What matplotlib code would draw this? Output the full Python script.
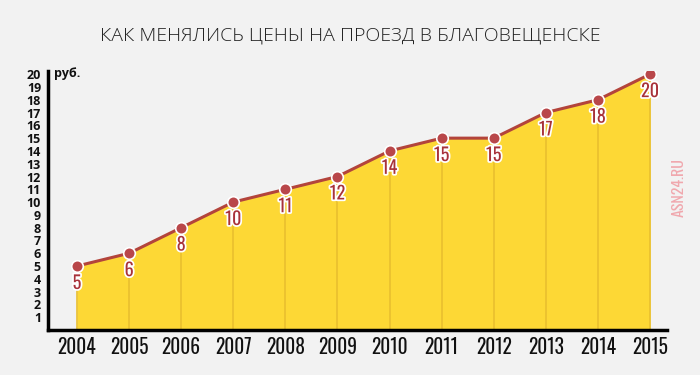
import matplotlib
matplotlib.use("Agg")
import matplotlib.pyplot as plt
import matplotlib.patheffects as pe

years = [2004, 2005, 2006, 2007, 2008, 2009, 2010, 2011, 2012, 2013, 2014, 2015]
prices = [5, 6, 8, 10, 11, 12, 14, 15, 15, 17, 18, 20]
yticks = list(range(1, 21))

title = "КАК МЕНЯЛИСЬ ЦЕНЫ НА ПРОЕЗД В БЛАГОВЕЩЕНСКЕ"
unit = "руб."
watermark = "ASN24.RU"

bg = "#f2f2f2"
fill_c = "#fdd835"
vline_c = "#e9bf2e"
line_c = "#b3443b"
lab_c = "#a8323a"

fig = plt.figure(figsize=(7, 3.75), dpi=100, facecolor=bg)
ax = fig.add_axes([48/700, 45/375, (667-48)/700, (329-70)/375])
ax.set_facecolor(bg)

ax.fill_between(years, 0, prices, color=fill_c, zorder=1, linewidth=0)
ax.vlines(years, 0, prices, color=vline_c, linewidth=1.2, zorder=2)
ax.plot(years, prices, color=line_c, linewidth=2.2, zorder=3)
ax.scatter(years, prices, s=70, color="#b9474a", edgecolor="white", linewidth=1.2, zorder=4)

for x, y in zip(years, prices):
    ax.text(x, y - 0.62, str(y), ha="center", va="top", fontsize=13,
            family="Oswald", color=lab_c, zorder=5,
            path_effects=[pe.withStroke(linewidth=2.5, foreground="white")])

ax.set_xlim(2003.443, 2015.326)
ax.set_ylim(0, 20.25)
ax.set_yticks(yticks)
ax.set_yticklabels([str(v) for v in yticks], fontsize=9, fontweight="bold",
                   family="Open Sans", color="#111")
ax.set_xticks(years)
ax.set_xticklabels([str(v) for v in years], fontsize=14, fontweight="bold",
                   family="Oswald", color="#111")
ax.tick_params(axis="both", length=0)
ax.tick_params(axis="y", pad=5)
ax.tick_params(axis="x", pad=5)
for s in ["top", "right"]:
    ax.spines[s].set_visible(False)
ax.spines["left"].set_linewidth(2.5)
ax.spines["bottom"].set_linewidth(2.5)

ax.text(2003.55, 20.05, unit, fontsize=9, fontweight="bold", family="Open Sans",
        color="#111", va="center", ha="left")

fig.text(0.5, 1 - 36/375, title, ha="center", va="center", fontsize=14,
         family="Open Sans", fontweight="light", color="#222")

fig.text(679/700, 1 - 188/375, watermark, rotation=90, ha="center", va="center",
         fontsize=11.5, fontweight="bold", family="Oswald", style="oblique",
         color="#f0a8ae")

fig.savefig("out.png", dpi=100, facecolor=bg)
